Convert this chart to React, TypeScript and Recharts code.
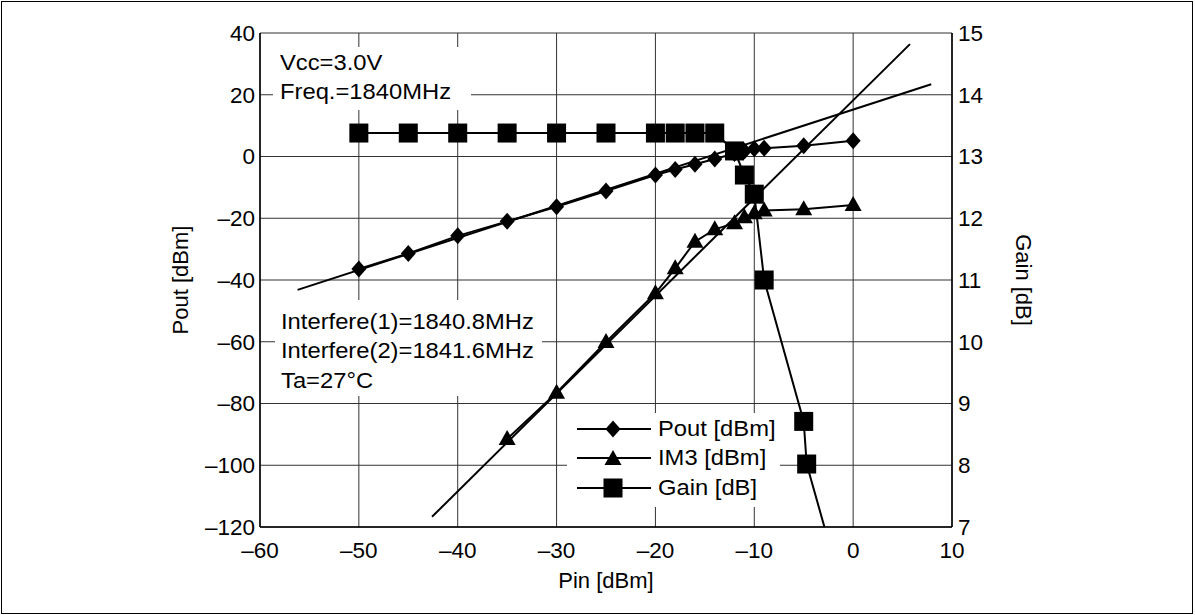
import { LineChart, Line, XAxis, YAxis, CartesianGrid, Legend } from 'recharts';

// Pout vs Pin
const pinPout = [-50, -45, -40, -35, -30, -25, -20, -18, -16, -14, -12, -11, -10, -9, -5, 0];
const pout = [-36.4, -31.4, -25.7, -21.0, -16.3, -11.2, -6.0, -4.2, -2.5, -0.8, 1.0, 1.8, 2.5, 2.7, 3.5, 5.1];

// IM3 vs Pin
const pinIm3 = [-35, -30, -25, -20, -18, -16, -14, -12, -11, -10, -9, -5, 0];
const im3 = [-91.5, -76.5, -60.1, -44.3, -36.2, -27.6, -23.6, -21.6, -19.7, -18.4, -17.5, -17.1, -15.7];

// Gain vs Pin (right axis)
const pinGain = [-50, -45, -40, -35, -30, -25, -20, -18, -16, -14, -12, -11, -10, -9, -5, -4.7, 0];
const gain = [13.38, 13.38, 13.38, 13.38, 13.38, 13.38, 13.38, 13.38, 13.38, 13.38, 13.09, 12.7, 12.39, 11.0, 8.71, 8.02, 5.35];

// extrapolation lines (1:1 and 3:1)
const poutFitPin = [-56.2, 7.9];
const poutFitVal = [-43.2, 23.4];
const im3FitPin = [-42.6, 5.75];
const im3FitVal = [-116.7, 36.4];

const xTicks = [-60, -50, -40, -30, -20, -10, 0, 10];
const leftTicks = [-120, -100, -80, -60, -40, -20, 0, 20, 40];
const rightTicks = [7, 8, 9, 10, 11, 12, 13, 14, 15];

const FONT = '"Liberation Sans", Arial, sans-serif';
const fmt = (v: number) => String(v).replace('-', '\u2013');
const pts = (xs: number[], ys: number[]) => xs.map((x, i) => ({ x, y: ys[i] }));

const diamond = (cx: number, cy: number) =>
  `${cx},${cy - 8.5} ${cx + 7.5},${cy} ${cx},${cy + 8.5} ${cx - 7.5},${cy}`;
const triangle = (cx: number, cy: number) =>
  `${cx},${cy - 9} ${cx + 8.5},${cy + 6} ${cx - 8.5},${cy + 6}`;

const DiamondDot = (p: any) =>
  p.cx == null ? <g key={`dd-${p.index}`} /> : <polygon key={`dd-${p.index}`} points={diamond(p.cx, p.cy)} fill="#000" />;
const TriangleDot = (p: any) =>
  p.cx == null ? <g key={`td-${p.index}`} /> : <polygon key={`td-${p.index}`} points={triangle(p.cx, p.cy)} fill="#000" />;
const SquareDot = (p: any) =>
  p.cx == null ? <g key={`sd-${p.index}`} /> : <rect key={`sd-${p.index}`} x={p.cx - 9.5} y={p.cy - 9.5} width={19} height={19} fill="#000" />;

const legendItems = [
  { name: 'Pout [dBm]', shape: 'diamond' },
  { name: 'IM3 [dBm]', shape: 'triangle' },
  { name: 'Gain [dB]', shape: 'square' },
];

// the original lettering is a little wider than Liberation Sans
const wide: React.CSSProperties = { display: 'inline-block', transform: 'scaleX(1.08)', transformOrigin: 'left center' };

function LegendBox() {
  return (
    <div style={{ background: '#fff', width: 213, height: 94, paddingTop: 1, boxSizing: 'border-box', fontFamily: FONT, fontSize: 22, color: '#000' }}>
      {legendItems.map((it) => (
        <div key={it.name} style={{ display: 'flex', alignItems: 'center', height: 29.5 }}>
          <svg width={88} height={24} style={{ display: 'block' }}>
            <line x1={10} y1={12} x2={84} y2={12} stroke="#000" strokeWidth={2} />
            {it.shape === 'diamond' && <polygon points={diamond(46, 12)} fill="#000" />}
            {it.shape === 'triangle' && <polygon points={triangle(46, 13)} fill="#000" />}
            {it.shape === 'square' && <rect x={36.5} y={2.5} width={19} height={19} fill="#000" />}
          </svg>
          <span style={{ ...wide, marginLeft: 3, whiteSpace: 'nowrap' }}>{it.name}</span>
        </div>
      ))}
    </div>
  );
}

const noteStyle: React.CSSProperties = {
  position: 'absolute',
  background: '#fff',
  fontFamily: FONT,
  fontSize: 22,
  lineHeight: '29.3px',
  color: '#000',
  whiteSpace: 'nowrap',
  boxSizing: 'border-box',
};

export default function App() {
  const tick = { fill: '#000', fontSize: 22.5, fontFamily: FONT };
  return (
    <div style={{ position: 'absolute', left: 0, top: 0, width: 1195, height: 615, background: '#fff' }}>
      <div style={{ position: 'absolute', left: 1, top: 1, width: 1192, height: 613, border: '1.5px solid #000', boxSizing: 'border-box' }} />
      <LineChart width={1195} height={615} margin={{ top: 33, right: 103, bottom: 18, left: 100 }}>
        <CartesianGrid stroke="#333" strokeWidth={1} yAxisId="left" />
        <XAxis
          dataKey="x"
          type="number"
          domain={[-60, 10]}
          ticks={xTicks}
          allowDataOverflow
          tickFormatter={fmt}
          tick={tick}
          tickLine={false}
          tickSize={8}
          tickMargin={7}
          height={70}
          axisLine={{ stroke: '#000', strokeWidth: 1.5 }}
          label={{ value: 'Pin [dBm]', position: 'insideBottom', offset: 9, fill: '#000', fontSize: 22, fontFamily: FONT }}
        />
        <XAxis xAxisId="top" orientation="top" type="number" domain={[-60, 10]} height={0} tick={false} tickLine={false} axisLine={{ stroke: '#000', strokeWidth: 1.5 }} />
        <YAxis
          yAxisId="left"
          type="number"
          domain={[-120, 40]}
          ticks={leftTicks}
          allowDataOverflow
          tickFormatter={fmt}
          tick={tick}
          tickLine={false}
          tickSize={3}
          tickMargin={2}
          width={160}
          axisLine={{ stroke: '#000', strokeWidth: 1.5 }}
          label={{ value: 'Pout [dBm]', angle: -90, position: 'center', fill: '#000', fontSize: 22, fontFamily: FONT }}
        />
        <YAxis
          yAxisId="right"
          orientation="right"
          type="number"
          domain={[7, 15]}
          ticks={rightTicks}
          allowDataOverflow
          tick={tick}
          tickLine={false}
          tickSize={3}
          tickMargin={3}
          width={140}
          axisLine={{ stroke: '#000', strokeWidth: 1.5 }}
          label={{ value: 'Gain [dB]', angle: 90, position: 'center', dx: 2, fill: '#000', fontSize: 22, fontFamily: FONT }}
        />
        <Line yAxisId="left" data={pts(poutFitPin, poutFitVal)} dataKey="y" stroke="#000" strokeWidth={2} dot={false} isAnimationActive={false} legendType="none" />
        <Line yAxisId="left" data={pts(im3FitPin, im3FitVal)} dataKey="y" stroke="#000" strokeWidth={2} dot={false} isAnimationActive={false} legendType="none" />
        <Line yAxisId="left" name="Pout [dBm]" data={pts(pinPout, pout)} dataKey="y" stroke="#000" strokeWidth={2} dot={DiamondDot} isAnimationActive={false} />
        <Line yAxisId="left" name="IM3 [dBm]" data={pts(pinIm3, im3)} dataKey="y" stroke="#000" strokeWidth={2} dot={TriangleDot} isAnimationActive={false} />
        <Line yAxisId="right" name="Gain [dB]" data={pts(pinGain, gain)} dataKey="y" stroke="#000" strokeWidth={2} dot={SquareDot} isAnimationActive={false} />
        <Legend layout="vertical" align="center" verticalAlign="middle" content={() => <LegendBox />} wrapperStyle={{ left: 567, top: 413, width: 213, height: 94 }} />
      </LineChart>
      <div style={{ ...noteStyle, left: 273, top: 47, width: 198, height: 63, paddingLeft: 7, paddingTop: 1 }}>
        <div><span style={wide}>Vcc=3.0V</span></div>
        <div><span style={wide}>Freq.=1840MHz</span></div>
      </div>
      <div style={{ ...noteStyle, left: 275, top: 300, width: 267, height: 96, paddingLeft: 6, paddingTop: 7 }}>
        <div><span style={wide}>Interfere(1)=1840.8MHz</span></div>
        <div><span style={wide}>Interfere(2)=1841.6MHz</span></div>
        <div><span style={wide}>Ta=27°C</span></div>
      </div>
    </div>
  );
}
